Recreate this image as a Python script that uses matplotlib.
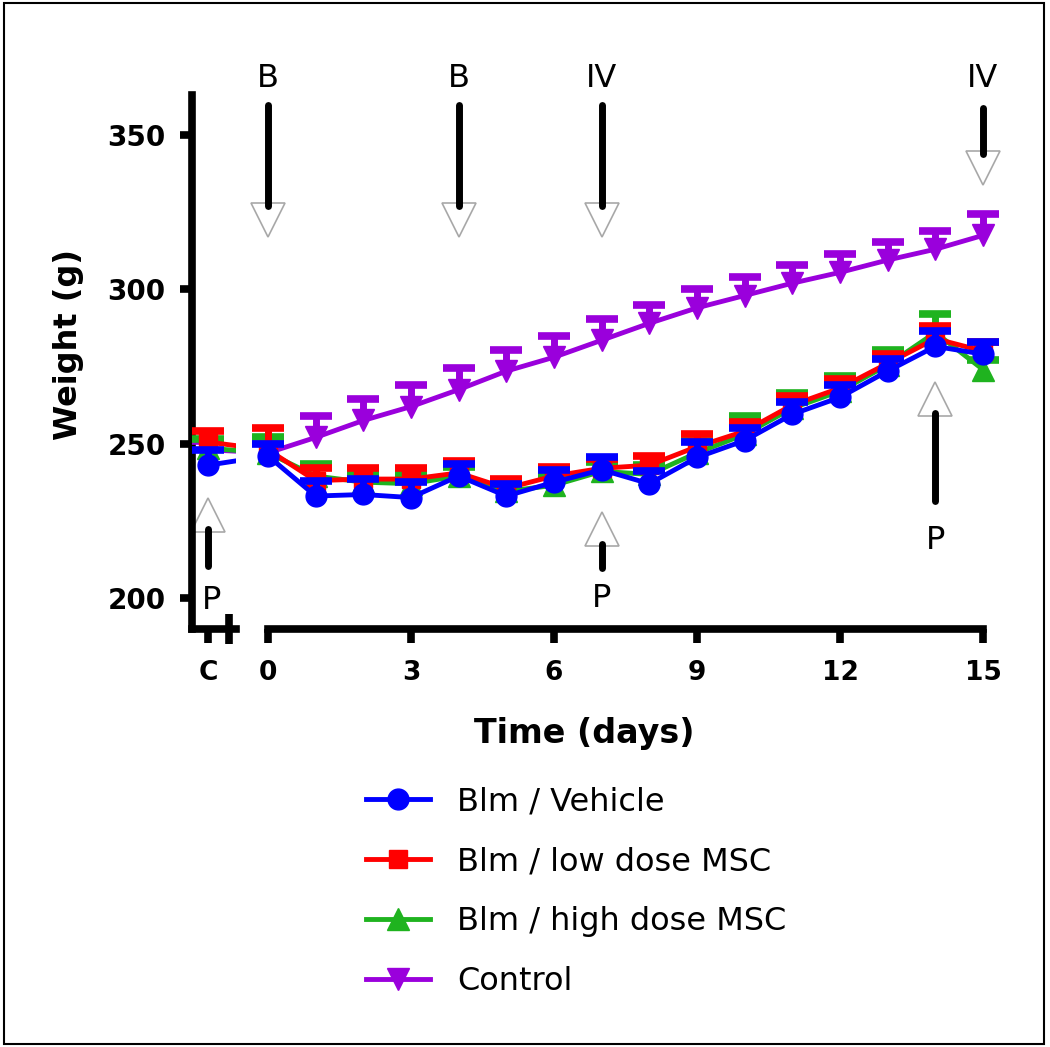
import matplotlib
matplotlib.use("Agg")
import matplotlib.pyplot as plt
import numpy as np
from matplotlib.lines import Line2D
from matplotlib.patches import Rectangle

# ---------------- data ----------------
days = list(range(0, 16))
control_label = "C"
series_names = ["Blm / Vehicle", "Blm / low dose MSC", "Blm / high dose MSC", "Control"]

vehicle_c = 243.0
vehicle = [246, 233, 233.5, 232.5, 239.5, 233, 237.5, 241.5, 237, 245.5, 251, 259.5, 265, 273.5, 281.5, 279]
vehicle_err_c = 5.0
vehicle_err = [4, 5, 5, 5, 4, 4, 4, 4, 4, 5, 4, 4, 4, 4, 5, 4]

low_c = 250.5
low = [248, 238, 238.5, 238.5, 240.5, 235.5, 239.5, 242, 243, 249, 254, 262.5, 268, 276, 284, 280]
low_err_c = 3.5
low_err = [7, 4, 3.5, 3.5, 4, 3, 3, 3, 3, 4, 3, 3, 3, 3, 4, 3]

high_c = 248.5
high = [247, 239.5, 237.5, 237, 239.5, 234.5, 236.5, 241, 240, 247, 253, 261.5, 267, 275.5, 286, 274]
high_err_c = 3.0
high_err = [5, 4, 3, 3, 3, 3, 3, 3, 3, 4, 6, 5, 5, 5, 6, 3]

ctrl_c = 248.0
ctrl = [247, 252, 257.5, 262, 267.5, 273.5, 278, 283.5, 289, 294, 298, 302, 305.5, 309.5, 313, 317.5]
ctrl_err_c = 3.0
ctrl_err = [4, 7, 7, 7, 7, 7, 7, 7, 6, 6, 6, 6, 6, 6, 6, 7]

y_ticks = [200, 250, 300, 350]
x_ticks = [0, 3, 6, 9, 12, 15]

# dosing annotations (label, day)
down_events = [("B", 0), ("B", 4), ("IV", 7), ("IV", 15)]
up_events = [("P", "C"), ("P", 7), ("P", 14)]

# ---------------- layout ----------------
W, H = 1050, 1047
fig = plt.figure(figsize=(W / 100, H / 100), dpi=100)
fig.patch.set_facecolor("white")

def fx(px):
    return px / W

def fy(py):
    return 1 - py / H

X0, X15 = 268, 983
DAYPX = (X15 - X0) / 15.0
YT, YB = 95, 629
YLIM = (189.9, 363.0)
C_POS = (208 - X0) / DAYPX
BREAK_POS = (229 - X0) / DAYPX

ax_r = fig.add_axes([fx(X0), fy(YB), (X15 - X0) / W, (YB - YT) / H])
ax_l = fig.add_axes([fx(192), fy(YB), (236 - 192) / W, (YB - YT) / H])
ax_r.set_xlim(0, 15)
ax_l.set_xlim((192 - X0) / DAYPX, (236 - X0) / DAYPX)
for ax in (ax_l, ax_r):
    ax.set_ylim(*YLIM)
    ax.patch.set_visible(False)

colors = ["#0000FF", "#FF0000", "#1FB31F", "#9A00DC"]
markers = ["o", "s", "^", "v"]
msizes = [15, 13.5, 16, 16]
c_vals = [vehicle_c, low_c, high_c, ctrl_c]
c_errs = [vehicle_err_c, low_err_c, high_err_c, ctrl_err_c]
vals = [vehicle, low, high, ctrl]
errs = [vehicle_err, low_err, high_err, ctrl_err]
zord = [6, 5, 4, 3]

LW = 3.5
for name, col, mk, ms, cv, ce, v, e, z in zip(series_names, colors, markers, msizes,
                                               c_vals, c_errs, vals, errs, zord):
    xs_all = [C_POS] + days
    ys_all = [cv] + v
    for ax in (ax_l, ax_r):
        ax.plot(xs_all, ys_all, color=col, lw=LW, zorder=z, clip_on=True,
                solid_capstyle="round")
    for ax, xs, ys, es in ((ax_l, [C_POS], [cv], [ce]), (ax_r, days, v, e)):
        es = np.asarray(es, dtype=float)
        cont = ax.errorbar(xs, ys, yerr=[np.zeros_like(es), es], fmt=mk, ms=ms,
                           color=col, mec=col, mfc=col, ecolor=col, elinewidth=5,
                           capsize=11.5, capthick=5.5, zorder=z + 0.5)
        line, caps, bars = cont.lines
        line.set_clip_on(False)
        for cp in caps:
            cp.set_clip_on(False)
        caps[0].set_visible(False)
        for b in bars:
            b.set_clip_on(False)

# ---------------- axes styling ----------------
SPW = 5.5
for ax in (ax_l, ax_r):
    ax.spines["top"].set_visible(False)
    ax.spines["right"].set_visible(False)
    ax.spines["bottom"].set_linewidth(SPW)
ax_r.spines["left"].set_visible(False)
ax_l.spines["left"].set_linewidth(SPW)

ax_r.set_xticks(x_ticks)
ax_r.set_xticklabels([str(t) for t in x_ticks])
ax_r.set_xticks([0], minor=True)
ax_r.tick_params(axis="x", which="major", direction="out", length=10, width=SPW,
                 labelsize=19, pad=12)
ax_r.tick_params(axis="x", which="minor", direction="inout", length=22, width=SPW)
ax_r.tick_params(axis="y", left=False, labelleft=False)

ax_l.set_xticks([C_POS])
ax_l.set_xticklabels([control_label])
ax_l.set_xticks([BREAK_POS], minor=True)
ax_l.tick_params(axis="x", which="major", direction="out", length=10, width=SPW,
                 labelsize=19, pad=12)
ax_l.tick_params(axis="x", which="minor", direction="inout", length=22, width=SPW)
ax_l.set_yticks(y_ticks)
ax_l.set_yticklabels([str(t) for t in y_ticks])
ax_l.tick_params(axis="y", direction="out", length=9, width=SPW, labelsize=20, pad=10)

for ax in (ax_l, ax_r):
    for lbl in ax.get_xticklabels() + ax.get_yticklabels():
        lbl.set_fontweight("bold")
        lbl.set_family("DejaVu Sans")

fig.text(fx(68), fy(344), "Weight (g)", rotation=90, ha="center", va="center",
         fontsize=23, fontweight="bold", family="DejaVu Sans")
fig.text(fx(584), fy(733), "Time (days)", ha="center", va="center",
         fontsize=24, fontweight="bold", family="DejaVu Sans")

# ---------------- annotations ----------------
HEAD_C = "#A8A8A8"
down_layout = {0: (359.7, 317.0), 4: (359.7, 317.0), 7: (359.7, 317.0), 15: (358.8, 333.8)}
for lab, d in down_events:
    top, tip = down_layout[d]
    head_c = tip + 5.4
    ax_r.plot([d, d], [top, tip + 10.0], color="black", lw=5, solid_capstyle="round",
              clip_on=False, zorder=11)
    ax_r.plot([d], [head_c], marker="v", ms=24, mfc="white", mec=HEAD_C, mew=1.2,
              clip_on=False, zorder=10, linestyle="none")
    ax_r.text(d, 368.5, lab, ha="center", va="center", fontsize=23,
              family="DejaVu Sans", clip_on=False)

up_layout = {"C": (232.2, 210.4, 199.0), 7: (227.6, 209.7, 199.7), 14: (269.8, 231.5, 218.5)}
for lab, d in up_events:
    tip, bottom, ty = up_layout[d]
    xpos = C_POS if d == "C" else d
    head_c = tip - 5.4
    ax_r.plot([xpos, xpos], [bottom, tip - 10.0], color="black", lw=5,
              solid_capstyle="round", clip_on=False, zorder=11)
    ax_r.plot([xpos], [head_c], marker="^", ms=24, mfc="white", mec=HEAD_C, mew=1.2,
              clip_on=False, zorder=10, linestyle="none")
    ax_r.text(xpos + (0.08 if d == "C" else 0), ty, lab, ha="center", va="center",
              fontsize=23, family="DejaVu Sans", clip_on=False)

# ---------------- legend ----------------
handles = [Line2D([], [], color=c, lw=LW, marker=m, ms=ms, mec=c, mfc=c)
           for c, m, ms in zip(colors, markers, msizes)]
fig.legend(handles, series_names, loc="upper left",
           bbox_to_anchor=(fx(366), fy(786)), frameon=False,
           prop={"family": "DejaVu Sans", "size": 23},
           handlelength=2.0, handletextpad=0.85, labelspacing=0.91,
           borderpad=0, borderaxespad=0)

# ---------------- border ----------------
fig.patches.append(Rectangle((fx(4), fy(1044)), fx(1044) - fx(4), fy(3) - fy(1044),
                             transform=fig.transFigure, fill=False, edgecolor="black",
                             lw=1.5, zorder=20))

fig.savefig("out.png", dpi=100, facecolor="white")
